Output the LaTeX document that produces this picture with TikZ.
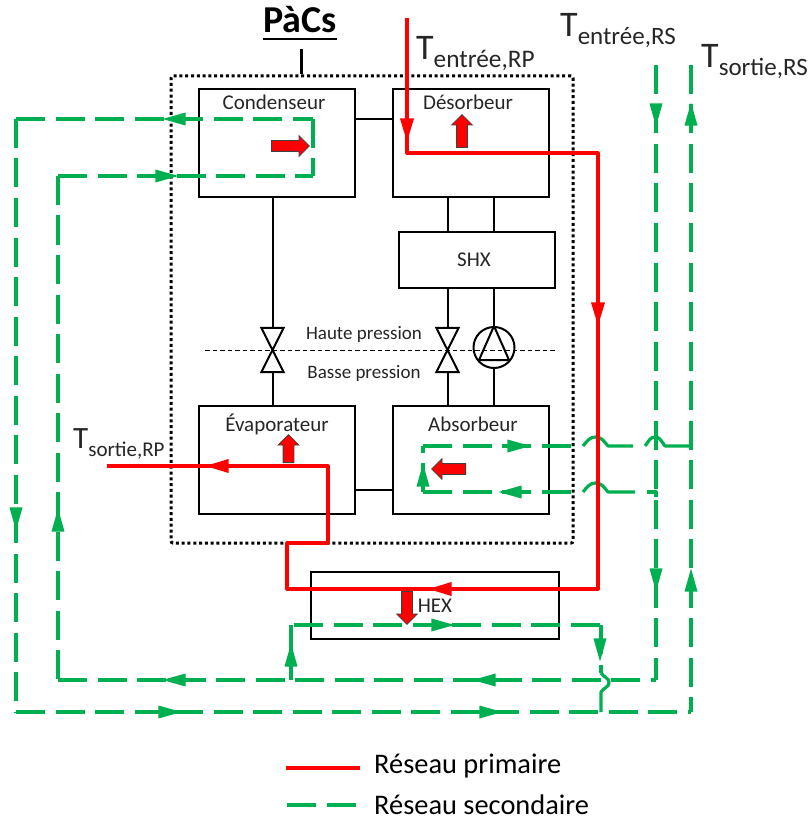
\documentclass[tikz,border=0pt]{standalone}
\usepackage{fontspec}
\setmainfont{Carlito}
\usetikzlibrary{shapes.geometric,shapes.arrows}

\definecolor{rsgreen}{HTML}{00B050}
\definecolor{inktext}{HTML}{262626}

% big T with lowered index
\newcommand{\templabel}[3]{\fontsize{#1}{#1}\selectfont T\fontsize{#2}{#2}\selectfont\raisebox{-8pt}{#3}}

\begin{document}
\begin{tikzpicture}[x=1pt,y=-1pt,node distance=194pt,
  box node/.style={rectangle,draw=black,line width=2pt,text=inktext,
  minimum width=156pt,minimum height=108pt,inner sep=0pt},
  valve node/.style={rectangle,minimum width=22pt,minimum height=44pt,inner sep=0pt},
  label node/.style={text=inktext,inner sep=0pt},
  temp node/.style={anchor=base west,text=inktext,inner sep=0pt},
  legend node/.style={anchor=west,inner sep=0pt,font=\fontsize{28.4}{28.4}\selectfont},
  link/.style={line width=2pt,draw=black},
  rp pipe/.style={line width=3.2pt,draw=red,line join=round},
  rs pipe/.style={line width=3.2pt,draw=rsgreen,dash pattern=on 29pt off 10.5pt},
  rs jump/.style={line width=3.2pt,draw=rsgreen,line join=round},
  rs tip/.style={isosceles triangle,isosceles triangle stretches,fill=rsgreen,anchor=apex,
  minimum width=13pt,minimum height=23pt,inner sep=0pt},
  rp tip/.style={isosceles triangle,isosceles triangle stretches,fill=red,anchor=apex,
  minimum width=14pt,minimum height=23pt,inner sep=0pt},
  heat/.style={single arrow,draw=black!75,fill=red,line width=0.8pt,minimum width=20pt,anchor=tail,
  single arrow head extend=5pt,single arrow tip angle=90,inner xsep=0pt,inner ysep=5pt}]

  \useasboundingbox (0,0) rectangle (810,818);

  \node[box node] (cond) at (277,143) {};
  \node[box node] (des) [right of=cond] {};
  \node[box node,minimum height=56pt] (shx) [below of=des,xshift=6pt,node distance=117pt] {};
  \node[box node] (evap) [below of=cond,node distance=317pt] {};
  \node[box node] (absb) [right of=evap] {};
  \node[box node,minimum width=248pt,minimum height=67pt] (hex) at (435,605.5) {};

  \node[label node,font=\fontsize{21}{21}\selectfont] (condT) at (274,102) {Condenseur};
  \node[label node,font=\fontsize{21}{21}\selectfont] (desT) at (468,102) {Désorbeur};
  \node[label node,font=\fontsize{21}{21}\selectfont] (shxT) at (474,260) {SHX};
  \node[label node,font=\fontsize{21}{21}\selectfont] (evapT) at (277,424) {Évaporateur};
  \node[label node,font=\fontsize{21}{21}\selectfont] (absbT) at (473,424) {Absorbeur};
  \node[label node,font=\fontsize{21}{21}\selectfont] (hexT) at (435,606) {HEX};
  \node[label node,font=\fontsize{19}{19}\selectfont] (haute) at (364,334) {Haute pression};
  \node[label node,font=\fontsize{19}{19}\selectfont] (basse) at (364,373) {Basse pression};

  % enclosure and title
  \node[draw=black,line width=3pt,dash pattern=on 3pt off 2.8pt,rounded corners=2pt,minimum width=402pt,
  minimum height=467pt,inner sep=0pt] (pacsBox) at (372,309.5) {};
  \node[inner xsep=0pt,inner ysep=7pt,font=\fontsize{38}{38}\selectfont\bfseries,anchor=south] (pacs) at (300,39.5) {PàCs};
  \draw[line width=2pt] (pacs.south west) -- (pacs.south east);
  \coordinate (pacsFoot) at (301,49);
  \draw[line width=3pt] (pacsFoot) -- (pacsFoot |- pacsBox.north);

  % pressure split, valves, pump
  \coordinate (splitL) at (205,350);
  \coordinate (splitR) at (557,350);
  \draw[line width=0.9pt,dash pattern=on 4.5pt off 3pt] (splitL) -- (splitR);
  \node[valve node] (vA) at (272.5,350) {};
  \node[valve node] (vB) at (447.5,350) {};
  \node[circle,draw=black,line width=2pt,minimum size=41pt,inner sep=0pt] (pump) at (494,347.5) {};
  \coordinate (pumpL) at (479,360);
  \coordinate (pumpR) at (509,360);
  \draw[link] (vA.north west) -- (vA.north east) -- (vA.south west) -- (vA.south east) -- cycle;
  \draw[link] (vB.north west) -- (vB.north east) -- (vB.south west) -- (vB.south east) -- cycle;
  \draw[link] (pump.north) -- (pumpL) -- (pumpR) -- cycle;

  \coordinate (condE) at (355,119);
  \coordinate (evapE) at (355,490);
  \coordinate (desDl) at (447.5,197);
  \coordinate (desDr) at (493.5,197);
  \draw[link] (condE) -- (condE -| des.west);
  \draw[link] (evapE) -- (evapE -| absb.west);
  \draw[link] (vA.north |- cond.south) -- (vA.north);
  \draw[link] (vA.south) -- (vA.south |- evap.north);
  \draw[link] (desDl) -- (desDl |- shx.north);
  \draw[link] (desDr) -- (desDr |- shx.north);
  \draw[link] (desDl |- shx.south) -- (vB.north);
  \draw[link] (vB.south) -- (vB.south |- absb.north);
  \draw[link] (pump.north |- shx.south) -- (pump.north);
  \draw[link] (pump.south) -- (pump.south |- absb.north);

  % secondary network: each straight run restarts its dashes
  \coordinate (oTR) at (313,119);
  \coordinate (oTL) at (16,119);
  \coordinate (oBL) at (16,712);
  \coordinate (oBR) at (691,712);
  \coordinate (oTop) at (691,65);
  \coordinate (iTR) at (313,176);
  \coordinate (iTL) at (58,176);
  \coordinate (iBL) at (58,680);
  \coordinate (iBR) at (656,680);
  \coordinate (iTop) at (656,65);
  \coordinate (hBL) at (291,680);
  \coordinate (hTL) at (291,625);
  \coordinate (hTLb) at (294,625);
  \coordinate (hTR) at (601,625);
  \coordinate (hBR) at (601,712);
  \coordinate (hJa) at (601,673);
  \coordinate (hJb) at (601,692);
  \coordinate (aTL) at (423,446);
  \coordinate (aBL) at (423,492);
  \coordinate (aTe) at (572,446);
  \coordinate (aBe) at (572,492);
  \coordinate (aTa) at (583,446);
  \coordinate (aTb) at (608,446);
  \coordinate (aTc) at (633,446);
  \coordinate (aTd) at (645,446);
  \coordinate (aTf) at (665,446);
  \coordinate (aTg) at (691,446);
  \coordinate (aBa) at (583,492);
  \coordinate (aBb) at (608,492);
  \coordinate (aBc) at (635,492);
  \coordinate (aBd) at (647,492);
  \coordinate (aBf) at (656,492);
  \coordinate (aBg) at (656,497);

  \draw[rs pipe] (oTL) -- (oTR);
  \draw[rs pipe] (oTR) -- (iTR);
  \draw[rs pipe] (iTL) -- (iTR);
  \draw[rs pipe] (oTL) -- (oBL);
  \draw[rs pipe] (iTL) -- (iBL);
  \draw[rs pipe] (oBL) -- (oBR);
  \draw[rs pipe] (iBL) -- (iBR);
  \draw[rs pipe] (oTop) -- (oBR);
  \draw[rs pipe] (iTop) -- (iBR);
  \draw[rs pipe] (hTL) -- (hBL);
  \draw[rs pipe] (hTLb) -- (hTR);
  \draw[rs pipe] (hTR) -- (hJa);
  \draw[rs jump] (hJa) to[out=300,in=90] ++(8,9.5) to[out=270,in=60] (hJb) -- (hBR);
  \draw[rs pipe] (aBL) -- (aTL);
  \draw[rs pipe] (aTL) -- (aTe);
  \draw[rs pipe] (aBL) -- (aBe);
  \draw[rs jump] (aTa) to[out=50,in=180] ++(12.5,-9) to[out=0,in=130] (aTb) -- (aTc);
  \draw[rs jump] (aTd) to[out=50,in=180] ++(10,-9) to[out=0,in=130] (aTf) -- (aTg);
  \draw[rs jump] (aBa) to[out=50,in=180] ++(12.5,-9) to[out=0,in=130] (aBb) -- (aBc);
  \draw[rs jump] (aBd) -- (aBf) -- (aBg);

  \node[rs tip,rotate=180] (tipA) at (162,119) {};
  \node[rs tip] (tipB) at (179,176) {};
  \node[rs tip,rotate=270] (tipC) at (16,531) {};
  \node[rs tip,rotate=90] (tipD) at (58,508) {};
  \node[rs tip] (tipE) at (182,712) {};
  \node[rs tip] (tipF) at (503,712) {};
  \node[rs tip,rotate=180] (tipG) at (162,680) {};
  \node[rs tip,rotate=180] (tipH) at (472,680) {};
  \node[rs tip,rotate=90] (tipI) at (291,643) {};
  \node[rs tip] (tipJ) at (455,625) {};
  \node[rs tip,rotate=270] (tipK) at (600,662) {};
  \node[rs tip,rotate=270] (tipL) at (656,127) {};
  \node[rs tip,rotate=270] (tipM) at (656,592) {};
  \node[rs tip,rotate=90] (tipN) at (691,102) {};
  \node[rs tip,rotate=90] (tipO) at (691,568) {};
  \node[rs tip] (tipP) at (531,446) {};
  \node[rs tip,rotate=180] (tipQ) at (498,492) {};
  \node[rs tip,rotate=90] (tipR) at (423,463) {};

  % primary network
  \coordinate (rpIn) at (407,18);
  \coordinate (rpA) at (407,153);
  \coordinate (rpB) at (598,153);
  \coordinate (rpC) at (598,589);
  \coordinate (rpD) at (287,589);
  \coordinate (rpE) at (287,543);
  \coordinate (rpF) at (328,543);
  \coordinate (rpG) at (328,466);
  \coordinate (rpOut) at (107,466);
  \draw[rp pipe] (rpIn) -- (rpA) -- (rpB) -- (rpC) -- (rpD) -- (rpE) -- (rpF) -- (rpG) -- (rpOut);
  \node[rp tip,rotate=270] (tipS) at (407,142) {};
  \node[rp tip,rotate=270] (tipT) at (598,326) {};
  \node[rp tip,rotate=180] (tipU) at (428,589) {};
  \node[rp tip,rotate=180] (tipV) at (205,466) {};

  % heat flows
  \node[heat,minimum height=38pt] (heatC) at (271,146) {};
  \node[heat,minimum height=33pt,rotate=90] (heatD) at (462,148) {};
  \node[heat,minimum height=28pt,rotate=90] (heatE) at (288.5,463) {};
  \node[heat,minimum height=34pt,rotate=180] (heatA) at (466,469) {};
  \node[heat,minimum height=33pt,rotate=270] (heatH) at (407,591) {};

  % temperatures
  \node[temp node] (tRPin) at (416,60) {\templabel{36}{25.3}{entrée,RP}};
  \node[temp node] (tRSin) at (560,37) {\templabel{36}{25}{entrée,RS}};
  \node[temp node] (tRSout) at (701,68) {\templabel{36}{25}{sortie,RS}};
  \node[temp node] (tRPout) at (73,448) {\templabel{31}{21}{sortie,RP}};

  % legend
  \node[legend node] (legP) at (374,766) {Réseau primaire};
  \node[legend node] (legS) at (374,805) {Réseau secondaire};
  \coordinate (legPa) at (286,768);
  \coordinate (legPb) at (360,768);
  \coordinate (legSa) at (287,805);
  \coordinate (legSb) at (356,805);
  \draw[rp pipe] (legPa) -- (legPb);
  \draw[rs pipe] (legSa) -- (legSb);
\end{tikzpicture}
\end{document}
